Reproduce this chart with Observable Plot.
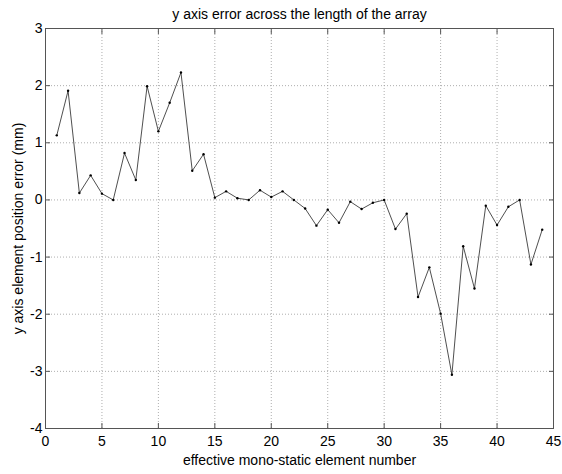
<!DOCTYPE html>
<html>
<head>
<meta charset="utf-8">
<script src="https://cdn.jsdelivr.net/npm/d3@7"></script>
<script src="https://cdn.jsdelivr.net/npm/@observablehq/plot@0.6"></script>
<style>
  html, body { margin: 0; padding: 0; background: #fff; }
  svg { display: block; }
</style>
</head>
<body>
<div id="chart"></div>
<script>
const elementNumber = d3.range(1, 45);
const yError = [
  1.13, 1.91, 0.12, 0.43, 0.11, 0.00, 0.82, 0.35, 1.99, 1.20,
  1.70, 2.23, 0.51, 0.80, 0.04, 0.15, 0.03, 0.00, 0.17, 0.05,
  0.15, 0.00, -0.15, -0.45, -0.17, -0.40, -0.03, -0.16, -0.05, 0.00,
  -0.51, -0.24, -1.70, -1.18, -1.99, -3.06, -0.81, -1.55, -0.10, -0.44,
  -0.12, 0.00, -1.13, -0.52
];
const xTicks = [0, 5, 10, 15, 20, 25, 30, 35, 40, 45];
const yTicks = [-4, -3, -2, -1, 0, 1, 2, 3];
const titleText = "y axis error across the length of the array";
const xLabel = "effective mono-static element number";
const yLabel = "y axis element position error (mm)";

const data = elementNumber.map((x, i) => ({x, y: yError[i]}));
const fmt = d => String(d);

const plot = Plot.plot({
  width: 562,
  height: 474,
  marginLeft: 45,
  marginRight: 9,
  marginTop: 28,
  marginBottom: 46,
  style: {fontFamily: "'Liberation Sans', Arial, Helvetica, sans-serif", fontSize: "14px", background: "#fff", color: "#000"},
  x: {domain: [0, 45]},
  y: {domain: [-4, 3]},
  marks: [
    Plot.gridX(xTicks, {stroke: "#999", strokeOpacity: 1, strokeWidth: 0.8, strokeDasharray: "1,2"}),
    Plot.gridY(yTicks, {stroke: "#999", strokeOpacity: 1, strokeWidth: 0.8, strokeDasharray: "1,2"}),
    Plot.frame({stroke: "#555", strokeWidth: 1}),
    Plot.axisX(xTicks, {anchor: "bottom", tickSize: -5, tickPadding: 13, tickFormat: fmt, stroke: "#555", fontSize: 14, label: null}),
    Plot.axisX(xTicks, {anchor: "top", tickSize: -5, text: null, stroke: "#555", label: null}),
    Plot.axisY(yTicks, {anchor: "left", tickSize: -5, tickPadding: 8, tickFormat: fmt, stroke: "#555", fontSize: 14, label: null}),
    Plot.axisY(yTicks, {anchor: "right", tickSize: -5, text: null, stroke: "#555", label: null}),
    Plot.line(data, {x: "x", y: "y", stroke: "#222", strokeWidth: 0.8}),
    Plot.dot(data, {x: "x", y: "y", r: 1.2, fill: "#000", stroke: null}),
    Plot.text([titleText], {frameAnchor: "top", dy: -19, fontSize: 14, text: d => d}),
    Plot.text([xLabel], {frameAnchor: "bottom", dy: 36, fontSize: 14, text: d => d}),
    Plot.text([yLabel], {frameAnchor: "left", dx: -27, textAnchor: "middle", rotate: -90, fontSize: 14, text: d => d})
  ]
});
document.getElementById("chart").appendChild(plot);
</script>
</body>
</html>
